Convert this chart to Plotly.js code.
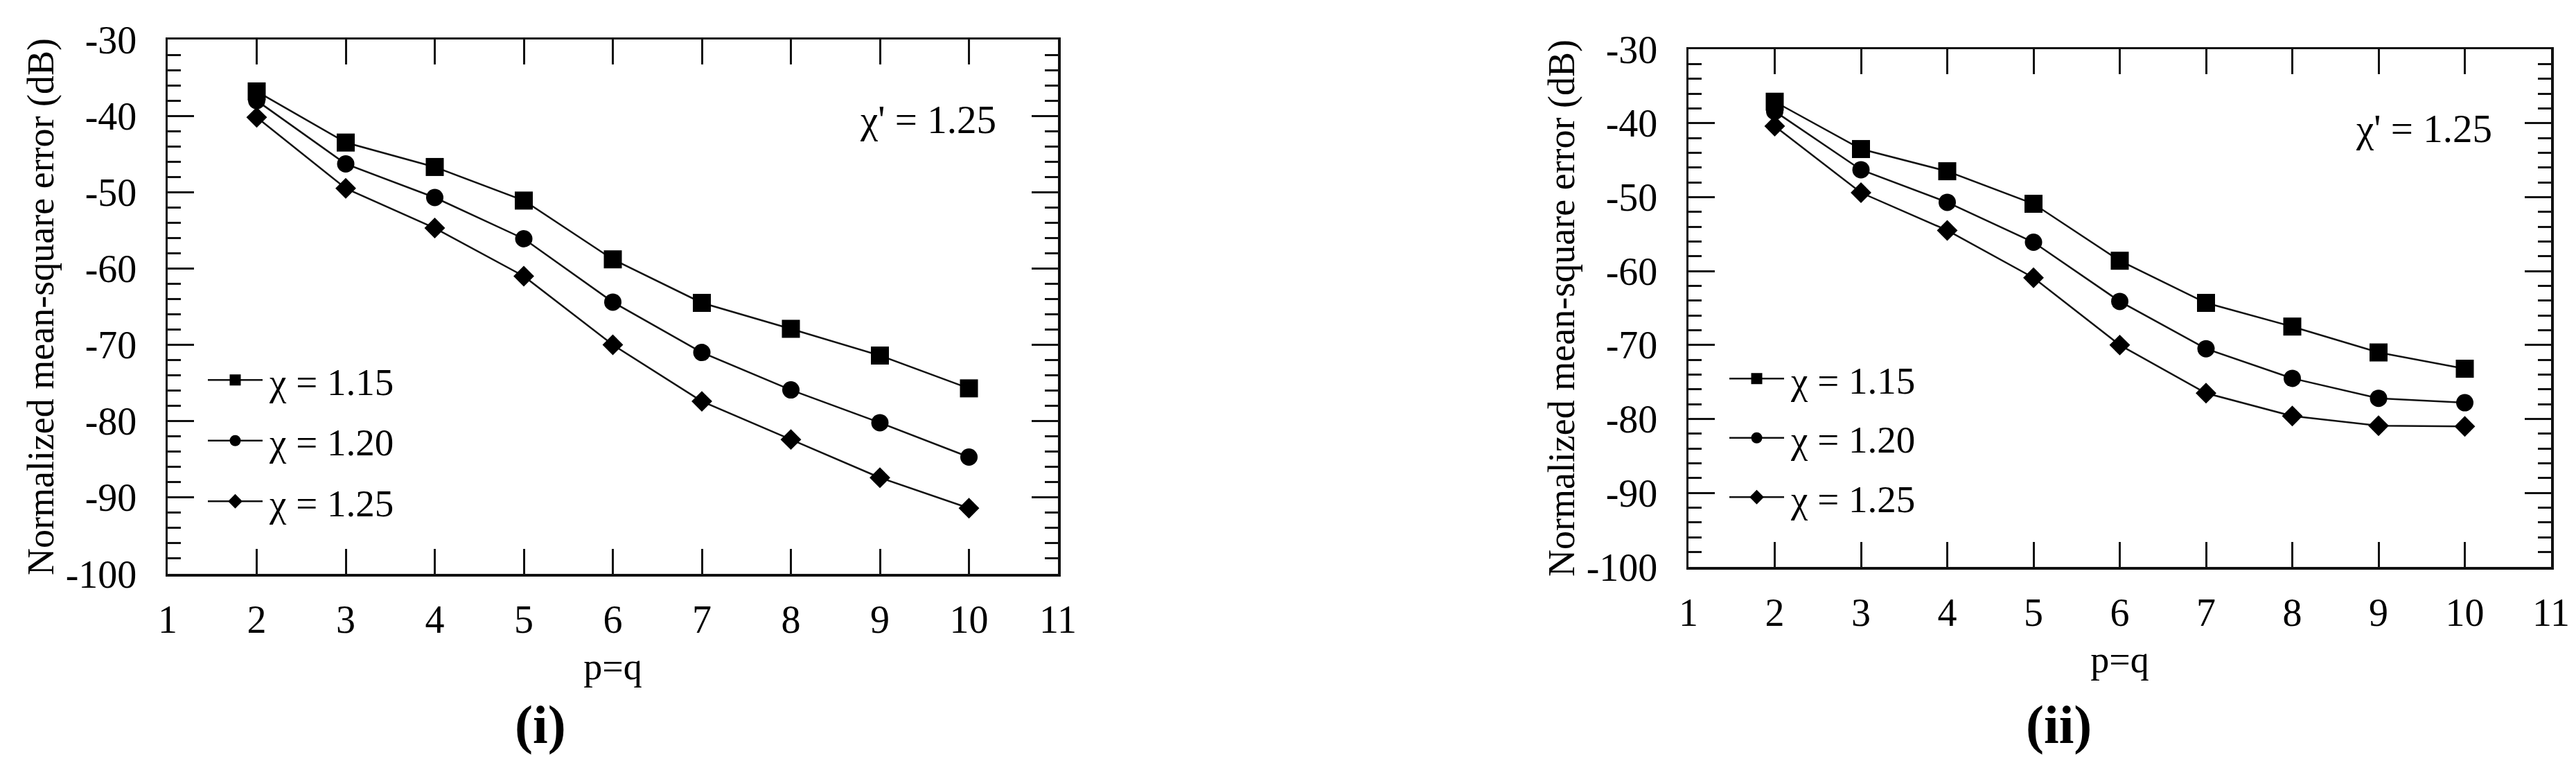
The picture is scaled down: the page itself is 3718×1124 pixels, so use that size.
<!DOCTYPE html>
<html>
<head>
<meta charset="utf-8">
<script src="https://cdn.plot.ly/plotly-3.0.1.min.js"></script>
<style>
html, body { margin: 0; padding: 0; background: #ffffff; }
#chart { width: 3718px; height: 1124px; }
</style>
</head>
<body>
<div id="chart"></div>
<script>
// ---- data ----
const pq = [2, 3, 4, 5, 6, 7, 8, 9, 10];
const seriesNames = ['χ = 1.15', 'χ = 1.20', 'χ = 1.25'];
const seriesSymbols = ['square', 'circle', 'diamond'];

// panel (i)
const leftChi115 = [-36.8, -43.5, -46.7, -51.1, -58.8, -64.5, -67.9, -71.4, -75.7];
const leftChi120 = [-38.0, -46.3, -50.7, -56.1, -64.4, -71.0, -75.9, -80.2, -84.7];
const leftChi125 = [-40.2, -49.5, -54.7, -61.0, -70.0, -77.4, -82.4, -87.4, -91.4];

// panel (ii)
const rightChi115 = [-37.1, -43.5, -46.5, -50.9, -58.6, -64.3, -67.5, -71.0, -73.2];
const rightChi120 = [-38.4, -46.3, -50.7, -56.1, -64.1, -70.5, -74.5, -77.2, -77.8];
const rightChi125 = [-40.4, -49.4, -54.5, -60.9, -70.0, -76.5, -79.6, -80.9, -81.0];

const xTickVals = [1, 2, 3, 4, 5, 6, 7, 8, 9, 10, 11];
const xTickText = ['1', '2', '3', '4', '5', '6', '7', '8', '9', '10', '11'];
const yTickVals = [-100, -90, -80, -70, -60, -50, -40, -30];
const yTickText = ['-100', '-90', '-80', '-70', '-60', '-50', '-40', '-30'];

const xTitle = 'p=q';
const yTitle = 'Normalized mean-square error (dB)';
const noteText = "χ' = 1.25";
const panelLabels = ['(i)', '(ii)'];

// ---- styling ----
const FONT = 'Liberation Serif, Times New Roman, serif';
const INK = '#111111';
const markerSizes = { square: 26, circle: 25, diamond: 23 };
const LEGEND_ITEM_W = 89;

function makeTraces(values, xa, ya, legendId) {
  return values.map((ys, i) => ({
    type: 'scatter',
    mode: 'lines+markers',
    x: pq,
    y: ys,
    name: seriesNames[i],
    xaxis: xa,
    yaxis: ya,
    legend: legendId,
    legendgroup: legendId + '_' + i,
    line: { color: INK, width: 2.5 },
    marker: { symbol: seriesSymbols[i], size: markerSizes[seriesSymbols[i]], color: '#000000' }
  }));
}

const traces = []
  .concat(makeTraces([leftChi115, leftChi120, leftChi125], 'x', 'y', 'legend'))
  .concat(makeTraces([rightChi115, rightChi120, rightChi125], 'x2', 'y2', 'legend2'));

function xAxis(domain, anchor) {
  return {
    domain: domain, anchor: anchor, range: [1, 11],
    tickmode: 'array', tickvals: xTickVals, ticktext: xTickText,
    ticks: 'inside', ticklen: 36, tickwidth: 3, tickcolor: INK,
    showline: true, linewidth: 3.5, linecolor: INK, mirror: 'ticks',
    showgrid: false, zeroline: false, fixedrange: true,
    tickfont: { family: FONT, size: 56, color: '#000' },
    ticklabelstandoff: 14,
    title: { text: xTitle, font: { family: FONT, size: 54, color: '#000' }, standoff: 19 }
  };
}
function yAxis(domain, anchor) {
  return {
    domain: domain, anchor: anchor, range: [-100, -30],
    tickmode: 'array', tickvals: yTickVals, ticktext: yTickText,
    ticks: 'inside', ticklen: 38, tickwidth: 3, tickcolor: INK,
    minor: { dtick: 2, tick0: 0, ticks: 'inside', ticklen: 19, tickwidth: 3, tickcolor: INK, showgrid: false },
    showline: true, linewidth: 3.5, linecolor: INK, mirror: 'ticks',
    showgrid: false, zeroline: false, fixedrange: true,
    tickfont: { family: FONT, size: 56, color: '#000' },
    ticklabelstandoff: 30,
    title: { text: yTitle, font: { family: FONT, size: 54, color: '#000' }, standoff: 0 }
  };
}

const W = 3718, H = 1124;
const layout = {
  width: W, height: H,
  margin: { l: 0, r: 0, t: 0, b: 0 },
  paper_bgcolor: '#ffffff', plot_bgcolor: '#ffffff',
  showlegend: true,
  xaxis: xAxis([242 / W, 1527 / W], 'y'),
  yaxis: yAxis([1 - 828 / H, 1 - 57 / H], 'x'),
  xaxis2: xAxis([2437 / W, 3682 / W], 'y2'),
  yaxis2: yAxis([1 - 818 / H, 1 - 71 / H], 'x2'),
  legend: {
    x: 290 / W, y: 1 - 506 / H, xanchor: 'left', yanchor: 'top',
    bgcolor: 'rgba(0,0,0,0)', borderwidth: 0,
    font: { family: FONT, size: 55, color: '#000' },
    itemwidth: LEGEND_ITEM_W, tracegroupgap: 13, traceorder: 'grouped'
  },
  legend2: {
    x: 2486 / W, y: 1 - 504 / H, xanchor: 'left', yanchor: 'top',
    bgcolor: 'rgba(0,0,0,0)', borderwidth: 0,
    font: { family: FONT, size: 55, color: '#000' },
    itemwidth: LEGEND_ITEM_W, tracegroupgap: 11, traceorder: 'grouped'
  },
  annotations: [
    { xref: 'x', yref: 'y', x: 10.32, y: -40.5, xanchor: 'right', yanchor: 'middle',
      text: noteText, showarrow: false, font: { family: FONT, size: 57, color: '#000' } },
    { xref: 'x2', yref: 'y2', x: 10.33, y: -40.7, xanchor: 'right', yanchor: 'middle',
      text: noteText, showarrow: false, font: { family: FONT, size: 57, color: '#000' } },
    { xref: 'paper', yref: 'paper', x: 780 / W, y: 1 - 1045 / H, xanchor: 'center', yanchor: 'middle',
      text: '<b>' + panelLabels[0] + '</b>', showarrow: false, font: { family: FONT, size: 78, color: '#000' } },
    { xref: 'paper', yref: 'paper', x: 2971 / W, y: 1 - 1045 / H, xanchor: 'center', yanchor: 'middle',
      text: '<b>' + panelLabels[1] + '</b>', showarrow: false, font: { family: FONT, size: 78, color: '#000' } }
  ]
};

Plotly.newPlot('chart', traces, layout, { displayModeBar: false, staticPlot: true }).then(function (gd) {
  // lengthen the legend sample lines so they span the legend item width (centred on the marker)
  gd.querySelectorAll('.infolayer path.js-line').forEach(function (p) {
    p.setAttribute('d', 'M10,0h' + (LEGEND_ITEM_W - 10));
  });
});
</script>
</body>
</html>
